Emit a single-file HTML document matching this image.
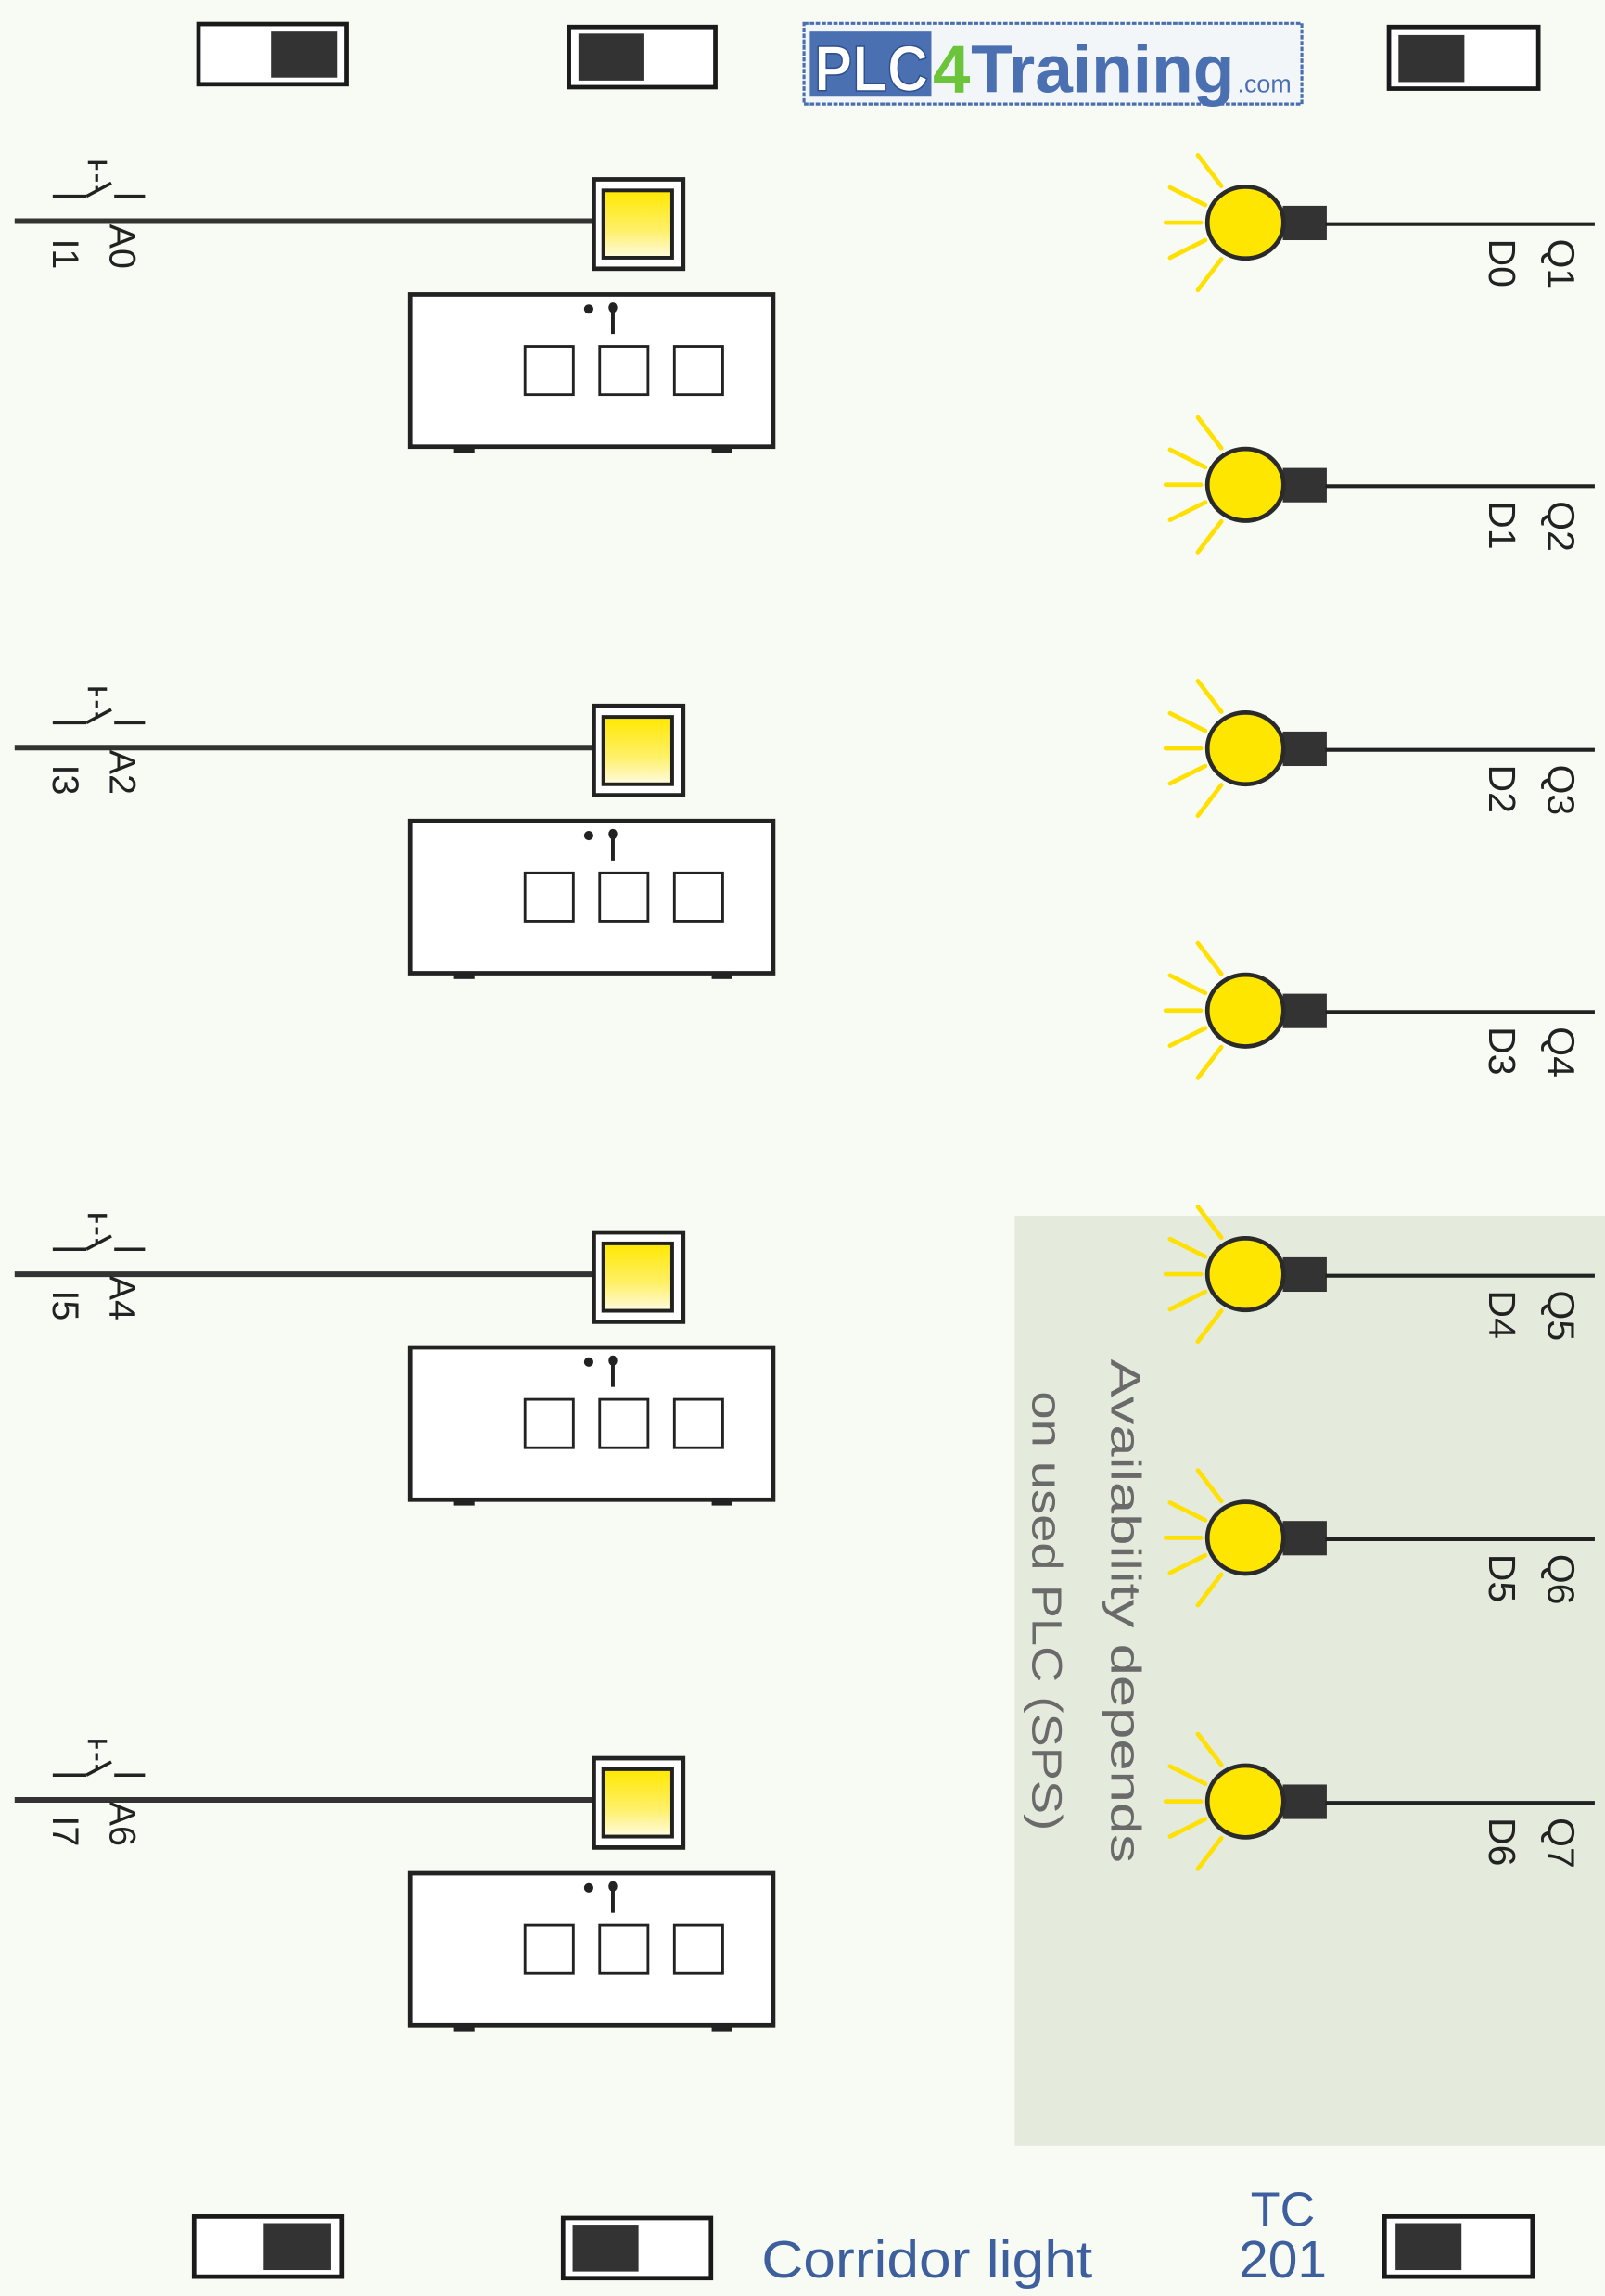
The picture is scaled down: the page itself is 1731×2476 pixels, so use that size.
<!DOCTYPE html>
<html><head><meta charset="utf-8"><style>
html,body{margin:0;padding:0;background:#f8fbf4;}
svg{display:block;}
text{font-family:"Liberation Sans",sans-serif;}
</style></head><body>
<svg width="1731" height="2476" viewBox="0 0 1096 1567.7" xmlns="http://www.w3.org/2000/svg">
<defs>
<linearGradient id="yg" x1="0" y1="0" x2="0" y2="1">
<stop offset="0" stop-color="#ffe800"/><stop offset="0.6" stop-color="#fff06a"/><stop offset="1" stop-color="#fffbe0"/>
</linearGradient>
<g id="sw">
<line x1="36" y1="134" x2="59" y2="134" stroke="#222" stroke-width="2.2"/>
<line x1="59" y1="134" x2="76" y2="125" stroke="#222" stroke-width="2.2"/>
<line x1="78" y1="134" x2="99" y2="134" stroke="#222" stroke-width="2.2"/>
<line x1="66" y1="111" x2="66" y2="130" stroke="#222" stroke-width="2" stroke-dasharray="5,3"/>
<line x1="60" y1="111" x2="73" y2="111" stroke="#222" stroke-width="2.2"/>
<line x1="10" y1="151" x2="406" y2="151" stroke="#333" stroke-width="3.8"/>
<rect x="405.5" y="122.5" width="61" height="61" fill="#fff" stroke="#222" stroke-width="3"/>
<rect x="412" y="130" width="47" height="46" fill="url(#yg)" stroke="#222" stroke-width="2.5"/>
<rect x="280" y="201" width="248" height="104" fill="#fff" stroke="#222" stroke-width="3"/>
<rect x="310" y="304" width="14" height="5" fill="#222"/>
<rect x="486" y="304" width="14" height="5" fill="#222"/>
<circle cx="402" cy="211" r="3.2" fill="#222"/>
<ellipse cx="418.5" cy="210" rx="3" ry="3.5" fill="#222"/>
<line x1="418.5" y1="210" x2="418.5" y2="228" stroke="#222" stroke-width="2.5"/>
<rect x="358.5" y="236.5" width="33" height="33" fill="#fff" stroke="#222" stroke-width="1.8"/>
<rect x="409.5" y="236.5" width="33" height="33" fill="#fff" stroke="#222" stroke-width="1.8"/>
<rect x="460.5" y="236.5" width="33" height="33" fill="#fff" stroke="#222" stroke-width="1.8"/>
</g>
<g id="lamp">
<g stroke="#ffe000" stroke-width="3" stroke-linecap="round">
<line x1="820" y1="0" x2="796" y2="0"/>
<line x1="823" y1="-12" x2="799" y2="-24"/>
<line x1="823" y1="12" x2="799" y2="24"/>
<line x1="834" y1="-25" x2="818" y2="-46"/>
<line x1="834" y1="25" x2="818" y2="46"/>
</g>
<rect x="876" y="-11.5" width="30" height="23.5" fill="#333"/>
<line x1="905" y1="1" x2="1089" y2="1" stroke="#222" stroke-width="2.6"/>
<ellipse cx="850.5" cy="0" rx="26" ry="24.5" fill="#ffe600" stroke="#2a2a2a" stroke-width="3"/>
</g>
</defs>

<!-- gray availability area -->
<rect x="693" y="830" width="403" height="635" fill="#e4eadc"/>

<!-- top switches -->
<rect x="135.5" y="16.5" width="101" height="41" fill="#fff" stroke="#1a1a1a" stroke-width="3"/>
<rect x="185" y="21" width="45" height="32" fill="#333"/>
<rect x="388.5" y="18.5" width="100" height="41" fill="#fff" stroke="#1a1a1a" stroke-width="3"/>
<rect x="395" y="23" width="45" height="32" fill="#333"/>
<rect x="948.5" y="18.5" width="102" height="42" fill="#fff" stroke="#1a1a1a" stroke-width="3"/>
<rect x="955" y="24" width="45" height="32" fill="#333"/>

<!-- logo -->
<rect x="549" y="16" width="340" height="55" fill="#f3f6f8" stroke="#4a6fb0" stroke-width="2" stroke-dasharray="3,1"/>
<rect x="553" y="21" width="83" height="45" fill="#4a70b2"/>
<text x="556" y="62" font-size="44" font-weight="bold" fill="#fff" stroke="#2d4f8e" stroke-width="1" textLength="78" lengthAdjust="spacingAndGlyphs">PLC</text>
<text x="637" y="63" font-size="46" font-weight="bold" fill="#6cc43a">4</text>
<text x="663" y="63" font-size="46" font-weight="bold" fill="#4a70b2" textLength="180" lengthAdjust="spacingAndGlyphs">Training</text>
<text x="845" y="63" font-size="17" fill="#4a70b2">.com</text>

<!-- input rows -->
<use href="#sw"/>
<use href="#sw" y="359.5"/>
<use href="#sw" y="719"/>
<use href="#sw" y="1078"/>

<g font-size="25" fill="#222">
<text transform="translate(36,163) rotate(90)">I1</text>
<text transform="translate(75,153) rotate(90)">A0</text>
<text transform="translate(36,522) rotate(90)">I3</text>
<text transform="translate(75,512) rotate(90)">A2</text>
<text transform="translate(36,881) rotate(90)">I5</text>
<text transform="translate(75,871) rotate(90)">A4</text>
<text transform="translate(36,1240) rotate(90)">I7</text>
<text transform="translate(75,1230) rotate(90)">A6</text>
</g>

<!-- lamps -->
<use href="#lamp" y="152"/>
<use href="#lamp" y="331"/>
<use href="#lamp" y="511"/>
<use href="#lamp" y="690"/>
<use href="#lamp" y="870"/>
<use href="#lamp" y="1050"/>
<use href="#lamp" y="1230"/>

<g font-size="26" fill="#222">
<text transform="translate(1057,163) rotate(90)">Q1</text>
<text transform="translate(1017,163) rotate(90)">D0</text>
<text transform="translate(1057,342) rotate(90)">Q2</text>
<text transform="translate(1017,342) rotate(90)">D1</text>
<text transform="translate(1057,522) rotate(90)">Q3</text>
<text transform="translate(1017,522) rotate(90)">D2</text>
<text transform="translate(1057,701) rotate(90)">Q4</text>
<text transform="translate(1017,701) rotate(90)">D3</text>
<text transform="translate(1057,881) rotate(90)">Q5</text>
<text transform="translate(1017,881) rotate(90)">D4</text>
<text transform="translate(1057,1061) rotate(90)">Q6</text>
<text transform="translate(1017,1061) rotate(90)">D5</text>
<text transform="translate(1057,1241) rotate(90)">Q7</text>
<text transform="translate(1017,1241) rotate(90)">D6</text>
</g>

<g font-size="29" fill="#6a6a6a">
<text transform="translate(759,928) rotate(90)" textLength="344" lengthAdjust="spacingAndGlyphs">Availability depends</text>
<text transform="translate(705,950) rotate(90)" textLength="300" lengthAdjust="spacingAndGlyphs">on used PLC (SPS)</text>
</g>

<!-- bottom switches -->
<rect x="132.5" y="1513.5" width="101" height="41" fill="#fff" stroke="#1a1a1a" stroke-width="3"/>
<rect x="180" y="1518" width="46" height="32" fill="#333"/>
<rect x="384.5" y="1514.5" width="101" height="41" fill="#fff" stroke="#1a1a1a" stroke-width="3"/>
<rect x="391" y="1519" width="45" height="32" fill="#333"/>
<rect x="945.5" y="1513.5" width="101" height="41" fill="#fff" stroke="#1a1a1a" stroke-width="3"/>
<rect x="953" y="1518" width="45" height="32" fill="#333"/>

<g fill="#3d5f9e">
<text x="520" y="1555" font-size="36" textLength="226" lengthAdjust="spacingAndGlyphs">Corridor light</text>
<text x="876" y="1520" font-size="33" text-anchor="middle">TC</text>
<text x="876" y="1555" font-size="36" text-anchor="middle">201</text>
</g>
</svg>
</body></html>
